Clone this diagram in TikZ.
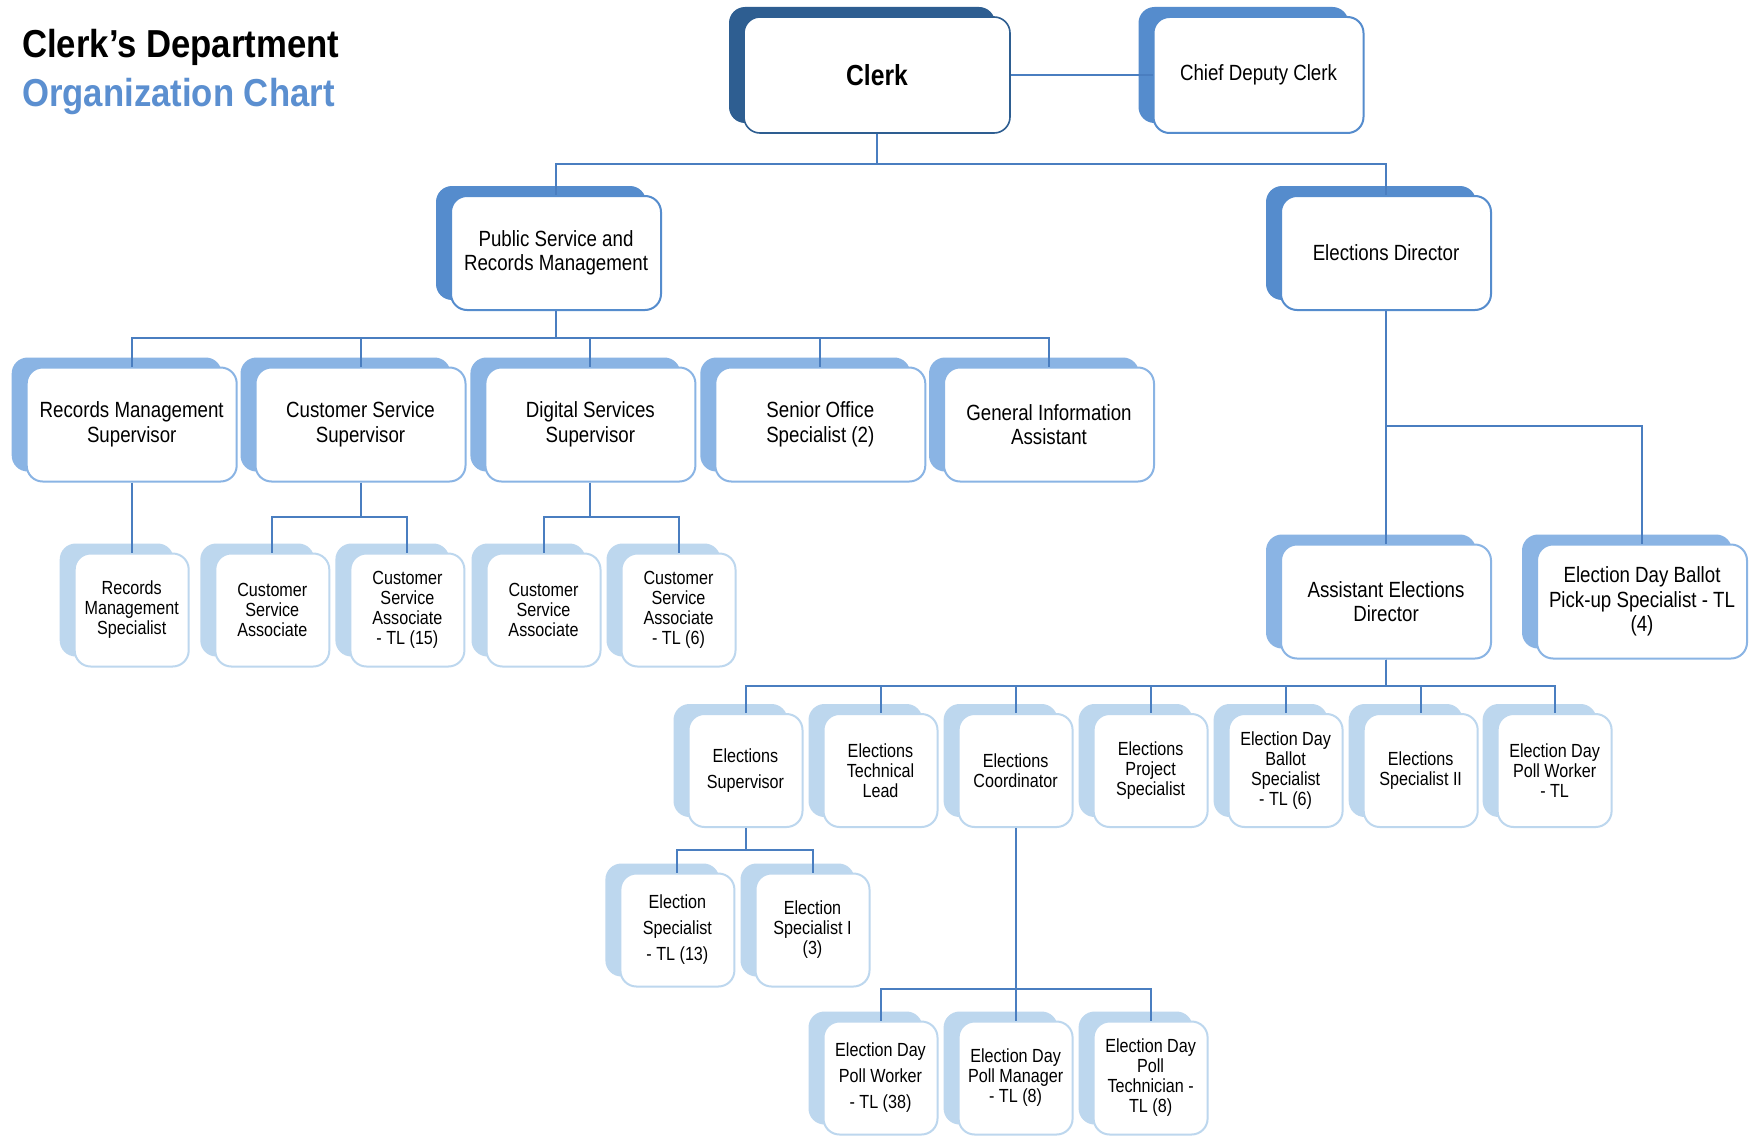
\documentclass[tikz,border=0pt]{standalone}
\usepackage{fontspec}
\setmainfont{Liberation Sans}[FakeStretch=0.85]
\newfontfamily\headfont{Liberation Sans}[FakeStretch=0.89]
\usetikzlibrary{shadows}

\definecolor{tierA}{RGB}{46,94,145}
\definecolor{tierB}{RGB}{85,140,205}
\definecolor{tierC}{RGB}{138,180,228}
\definecolor{tierD}{RGB}{189,215,238}
\definecolor{wirec}{RGB}{74,126,192}
\definecolor{titleblue}{RGB}{91,143,208}

\begin{document}
\begin{tikzpicture}[x=1pt,y=-1pt,
  card/.style={draw, fill=white, rounded corners=16pt, line width=2pt, align=center, inner sep=0pt},
  wide/.style={card, minimum width=210, minimum height=114, font=\fontsize{22}{24.5}\selectfont},
  narrow/.style={card, minimum width=114, minimum height=113, font=\fontsize{19}{20}\selectfont},
  loose/.style={font=\fontsize{19}{26}\selectfont},
  toneA/.style={draw=tierA, line width=1.6pt, general shadow={fill=tierA, shadow xshift=-15pt, shadow yshift=10pt}},
  toneB/.style={draw=tierB, general shadow={fill=tierB, shadow xshift=-15pt, shadow yshift=10pt}},
  toneC/.style={draw=tierC, general shadow={fill=tierC, shadow xshift=-15pt, shadow yshift=10pt}},
  toneD/.style={draw=tierD, general shadow={fill=tierD, shadow xshift=-15pt, shadow yshift=10pt}},
  wire/.style={draw=wirec, line width=2pt}
]
\fill[white] (0,0) rectangle (1750,1137);
\useasboundingbox (0,0) rectangle (1750,1137);

% heading
\node[anchor=base west, inner sep=0pt, font=\headfont\bfseries\fontsize{39}{44}\selectfont] (head1) at (22,58) {Clerk’s Department};
\node[anchor=base west, inner sep=0pt, text=titleblue, font=\headfont\bfseries\fontsize{39}{44}\selectfont] (head2) at (22,107) {Organization Chart};

% top level
\node[card, toneA, minimum width=266, minimum height=116, font=\bfseries\fontsize{29}{32}\selectfont] (clerk) at (877,75) {Clerk};
\node[wide, toneB, minimum height=116] (chief) at (1258.5,75) {Chief Deputy Clerk};

% divisions
\node[wide, toneB] (psrm) at (556,253) {Public Service and\\Records Management};
\node[wide, toneB] (eldir) at (1386,253) {Elections Director};

% public service supervisors
\node[wide, toneC] (rms) at (131.7,424.5) {Records Management\\Supervisor};
\node[wide, toneC] (css) at (360.5,424.5) {Customer Service\\Supervisor};
\node[wide, toneC] (dss) at (590.4,424.5) {Digital Services\\Supervisor};
\node[wide, toneC] (sos) at (820.3,424.5) {Senior Office\\Specialist (2)};
\node[wide, toneC] (gia) at (1049,424.5) {General Information\\Assistant};

% public service staff
\node[narrow, toneD] (rmspec) at (131.7,610) {Records\\Management\\Specialist};
\node[narrow, toneD] (csa) at (272.3,610) {Customer\\Service\\Associate};
\node[narrow, toneD] (csatl) at (407.4,610) {Customer\\Service\\Associate\\- TL (15)};
\node[narrow, toneD] (dsa) at (543.5,610) {Customer\\Service\\Associate};
\node[narrow, toneD] (dsatl) at (678.5,610) {Customer\\Service\\Associate\\- TL (6)};

% elections
\node[wide, toneC] (aed) at (1386,601.5) {Assistant Elections\\Director};
\node[wide, toneC] (pickup) at (1642,601.5) {Election Day Ballot\\Pick-up Specialist - TL\\(4)};

\node[narrow, toneD, loose] (esup) at (745.5,770.5) {Elections\\Supervisor};
\node[narrow, toneD] (etech) at (880.5,770.5) {Elections\\Technical\\Lead};
\node[narrow, toneD] (ecoord) at (1015.6,770.5) {Elections\\Coordinator};
\node[narrow, toneD] (eproj) at (1150.6,770.5) {Elections\\Project\\Specialist};
\node[narrow, toneD] (ballot) at (1285.6,770.5) {Election Day\\Ballot\\Specialist\\- TL (6)};
\node[narrow, toneD] (espec2) at (1420.7,770.5) {Elections\\Specialist II};
\node[narrow, toneD] (pollw) at (1554.6,770.5) {Election Day\\Poll Worker\\- TL};

\node[narrow, toneD, loose] (estl) at (677.4,930) {Election\\Specialist\\- TL (13)};
\node[narrow, toneD] (es1) at (812.5,930) {Election\\Specialist I\\(3)};

\node[narrow, toneD, loose] (pwork) at (880.5,1078) {Election Day\\Poll Worker\\- TL (38)};
\node[narrow, toneD] (pmgr) at (1015.6,1078) {Election Day\\Poll Manager\\- TL (8)};
\node[narrow, toneD] (ptech) at (1150.6,1078) {Election Day\\Poll\\Technician -\\TL (8)};

% bus levels
\coordinate (busTop) at (0,164);
\coordinate (busPS) at (0,338);
\coordinate (busCS) at (0,517);
\coordinate (busED) at (0,426);
\coordinate (busAED) at (0,686);
\coordinate (busES) at (0,850);
\coordinate (busEC) at (0,989);

% connectors
\draw[wire] (clerk.east) -- (chief.west);
\foreach \c in {psrm,eldir}
  \draw[wire] (clerk.south) -- (clerk.south |- busTop) -| (\c.north);
\foreach \c in {rms,css,dss,sos,gia}
  \draw[wire] (psrm.south) -- (psrm.south |- busPS) -| (\c.north);
\draw[wire] (rms.south) -- (rmspec.north);
\foreach \c in {csa,csatl}
  \draw[wire] (css.south) -- (css.south |- busCS) -| (\c.north);
\foreach \c in {dsa,dsatl}
  \draw[wire] (dss.south) -- (dss.south |- busCS) -| (\c.north);
\draw[wire] (eldir.south) -- (aed.north);
\draw[wire] (eldir.south) -- (eldir.south |- busED) -| (pickup.north);
\foreach \c in {esup,etech,ecoord,eproj,ballot,espec2,pollw}
  \draw[wire] (aed.south) -- (aed.south |- busAED) -| (\c.north);
\foreach \c in {estl,es1}
  \draw[wire] (esup.south) -- (esup.south |- busES) -| (\c.north);
\foreach \c in {pwork,pmgr,ptech}
  \draw[wire] (ecoord.south) -- (ecoord.south |- busEC) -| (\c.north);
\end{tikzpicture}
\end{document}
